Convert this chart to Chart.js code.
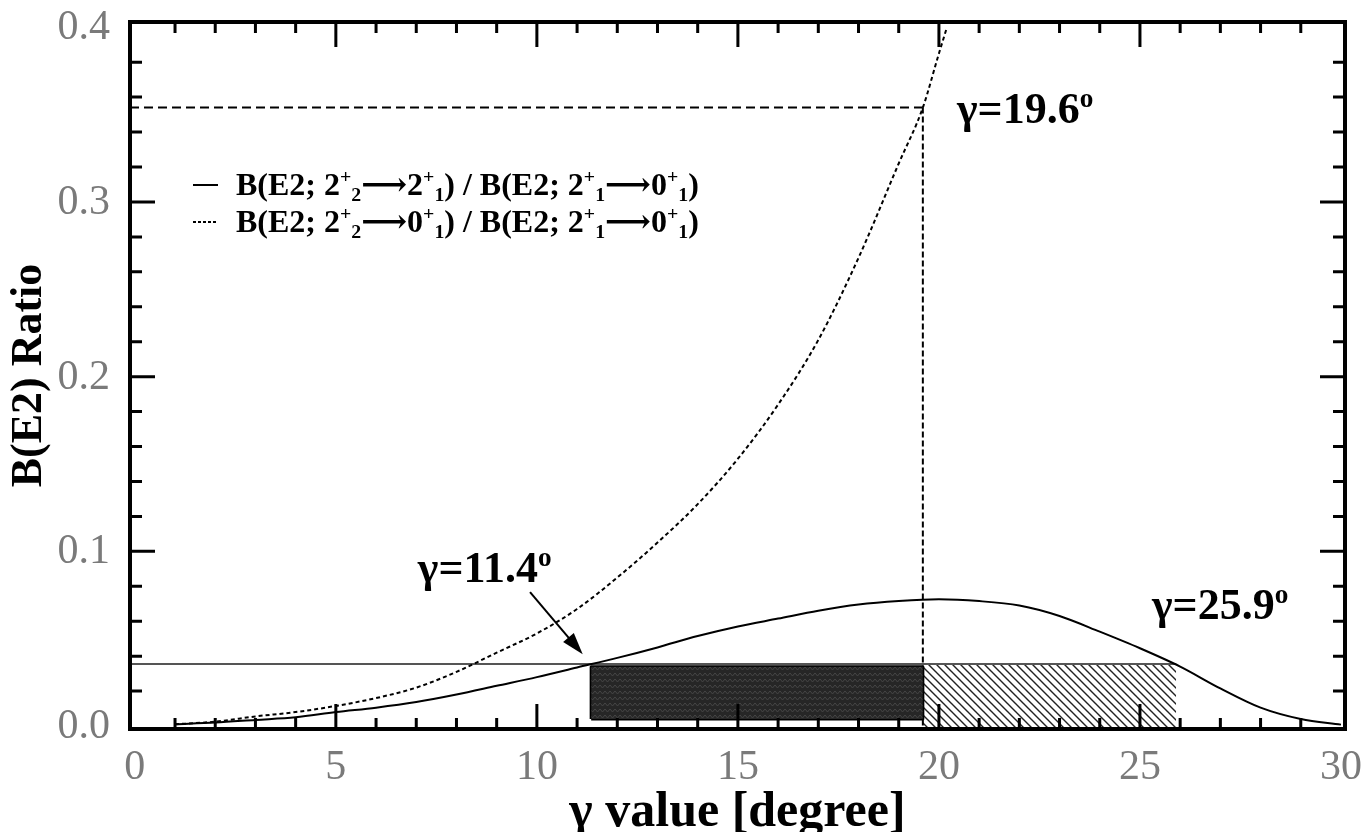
<!DOCTYPE html>
<html>
<head>
<meta charset="utf-8">
<script src="https://cdn.jsdelivr.net/npm/chart.js@4.4.1/dist/chart.umd.min.js"></script>
<style>
  html, body { margin: 0; padding: 0; background: #fff; }
  canvas { display: block; }
</style>
</head>
<body>
<canvas id="ratioChart" width="1366" height="832"></canvas>
<script>
// values (gamma in degree)
const gammaSolid = [1, 2, 3, 4, 5, 6, 7, 8, 9, 10, 11, 12, 13, 14, 15, 16, 17, 18, 19, 20, 21, 22, 23, 24, 25, 26, 27, 28, 29, 30];
const ratio22to21 = [0.001, 0.002, 0.0035, 0.005, 0.008, 0.0105, 0.0137, 0.018, 0.023, 0.028, 0.0335, 0.039, 0.045, 0.0515, 0.057, 0.0615, 0.066, 0.0695, 0.0715, 0.0725, 0.0715, 0.069, 0.063, 0.054, 0.0445, 0.034, 0.0215, 0.0105, 0.004, 0.0008];

const gammaDotted = [1, 2, 3, 4, 5, 6, 7, 8, 9, 10, 11, 12, 13, 14, 15, 16, 17, 18, 19, 19.6, 20, 20.2];
const ratio22to01 = [0.001, 0.0025, 0.0055, 0.008, 0.0115, 0.016, 0.022, 0.031, 0.042, 0.053, 0.067, 0.085, 0.105, 0.127, 0.153, 0.184, 0.221, 0.268, 0.322, 0.354, 0.385, 0.4];

const xTickValues = [0, 5, 10, 15, 20, 25, 30];
const xTickLabels = ['0', '5', '10', '15', '20', '25', '30'];
const yTickValues = [0, 0.1, 0.2, 0.3, 0.4];
const yTickLabels = ['0.0', '0.1', '0.2', '0.3', '0.4'];

const gammaLow = 11.4;
const gammaMid = 19.6;
const gammaHigh = 25.9;
const ratioLevel = 0.0355;
const ratioAtMid = 0.354;
const boxLeft = 11.35;
const boxRange = [0.004, 0.034];
const arrowFrom = [9.83, 0.0766];
const arrowTo = [11.14, 0.0411];

const legendSolid = [['B(E2; 2', ''], ['+', 'sup'], ['2', 'sub'], ['\u27F62', ''], ['+', 'sup'], ['1', 'sub'], [') / B(E2; 2', ''], ['+', 'sup'], ['1', 'sub'], ['\u27F60', ''], ['+', 'sup'], ['1', 'sub'], [')', '']];
const legendDotted = [['B(E2; 2', ''], ['+', 'sup'], ['2', 'sub'], ['\u27F60', ''], ['+', 'sup'], ['1', 'sub'], [') / B(E2; 2', ''], ['+', 'sup'], ['1', 'sub'], ['\u27F60', ''], ['+', 'sup'], ['1', 'sub'], [')', '']];

const X_MIN = -0.12, X_MAX = 30.1;
const Y_MIN = -0.0017, Y_MAX = 0.403;

const SERIF = '"Liberation Serif", "DejaVu Serif", serif';

function pts(xs, ys) {
  return xs.map((x, i) => ({x: x, y: ys[i]}));
}

function hatchPattern() {
  const c = document.createElement('canvas');
  c.width = 8; c.height = 8;
  const g = c.getContext('2d');
  g.strokeStyle = '#222';
  g.lineWidth = 1.4;
  g.beginPath();
  g.moveTo(-2, -2); g.lineTo(10, 10);
  g.moveTo(6, -2); g.lineTo(10, 2);
  g.moveTo(-2, 6); g.lineTo(2, 10);
  g.stroke();
  return g.createPattern(c, 'repeat');
}

function darkPattern() {
  const c = document.createElement('canvas');
  c.width = 10; c.height = 6;
  const g = c.getContext('2d');
  g.fillStyle = '#262626';
  g.fillRect(0, 0, 10, 6);
  g.strokeStyle = '#464646';
  g.lineWidth = 1;
  g.beginPath();
  g.moveTo(0, 1); g.lineTo(2.5, 4); g.lineTo(5, 1); g.lineTo(7.5, 4); g.lineTo(10, 1);
  g.stroke();
  return g.createPattern(c, 'repeat');
}

function drawRich(ctx, x, y, parts, size) {
  let cx = x;
  parts.forEach(([txt, mode]) => {
    const s = mode ? size * 0.62 : size;
    ctx.font = 'bold ' + s + 'px ' + SERIF;
    const dy = mode === 'sup' ? -size * 0.38 : (mode === 'sub' ? size * 0.2 : 0);
    ctx.fillText(txt, cx, y + dy);
    cx += ctx.measureText(txt).width;
  });
  return cx;
}

// frame, inward ticks, labels, legend, annotations
const decorPlugin = {
  id: 'decor',
  afterDraw(chart) {
    const {ctx, chartArea: a, scales: {x, y}} = chart;
    ctx.save();
    ctx.strokeStyle = '#000';
    ctx.lineCap = 'butt';

    // ticks
    ctx.lineWidth = 3;
    ctx.beginPath();
    for (let g = 1; g < 30; g++) {
      const px = x.getPixelForValue(g);
      const len = g % 5 === 0 ? 25 : 11;
      ctx.moveTo(px, a.bottom); ctx.lineTo(px, a.bottom - len);
      ctx.moveTo(px, a.top); ctx.lineTo(px, a.top + len);
    }
    for (let k = 1; k < 20; k++) {
      const py = y.getPixelForValue(k * 0.02);
      const len = k % 5 === 0 ? 25 : 12;
      ctx.moveTo(a.left, py); ctx.lineTo(a.left + len, py);
      ctx.moveTo(a.right, py); ctx.lineTo(a.right - len, py);
    }
    ctx.stroke();

    // frame
    ctx.lineWidth = 4;
    ctx.strokeRect(a.left, a.top, a.right - a.left, a.bottom - a.top);

    // tick labels
    ctx.fillStyle = '#7a7a7a';
    ctx.font = '42px ' + SERIF;
    ctx.textAlign = 'center';
    ctx.textBaseline = 'middle';
    xTickValues.forEach((v, i) => {
      ctx.fillText(xTickLabels[i], x.getPixelForValue(v), a.bottom + 39);
    });
    ctx.textAlign = 'right';
    yTickValues.forEach((v, i) => {
      ctx.fillText(yTickLabels[i], a.left - 20, y.getPixelForValue(v) + 1);
    });

    // axis titles
    ctx.fillStyle = '#000';
    ctx.font = 'bold 50px ' + SERIF;
    ctx.textAlign = 'center';
    ctx.fillText('\u03B3 value [degree]', (a.left + a.right) / 2, a.bottom + 84);
    ctx.font = 'bold 44px ' + SERIF;
    ctx.save();
    ctx.translate(30, (a.top + a.bottom) / 2);
    ctx.rotate(-Math.PI / 2);
    ctx.fillText('B(E2) Ratio', 0, 0);
    ctx.restore();

    // legend
    ctx.textAlign = 'left';
    ctx.textBaseline = 'alphabetic';
    const lx = a.left + 63;
    const ly1 = a.top + 163, ly2 = a.top + 200;
    ctx.lineWidth = 2;
    ctx.beginPath();
    ctx.moveTo(lx, ly1); ctx.lineTo(lx + 25, ly1);
    ctx.stroke();
    ctx.setLineDash([3, 2]);
    ctx.beginPath();
    ctx.moveTo(lx, ly2); ctx.lineTo(lx + 25, ly2);
    ctx.stroke();
    ctx.setLineDash([]);
    drawRich(ctx, lx + 43, ly1 + 10, legendSolid, 32);
    drawRich(ctx, lx + 43, ly2 + 10, legendDotted, 32);

    // annotations
    drawRich(ctx, x.getPixelForValue(20.45), y.getPixelForValue(0.345), [['\u03B3=19.6', ''], ['o', 'sup']], 44);
    drawRich(ctx, x.getPixelForValue(7.04), y.getPixelForValue(0.0823), [['\u03B3=11.4', ''], ['o', 'sup']], 44);
    drawRich(ctx, x.getPixelForValue(25.3), y.getPixelForValue(0.0611), [['\u03B3=25.9', ''], ['o', 'sup']], 44);

    // arrow towards gamma = 11.4
    const x0 = x.getPixelForValue(arrowFrom[0]), y0 = y.getPixelForValue(arrowFrom[1]);
    const x1 = x.getPixelForValue(arrowTo[0]), y1 = y.getPixelForValue(arrowTo[1]);
    const ang = Math.atan2(y1 - y0, x1 - x0);
    ctx.lineWidth = 2;
    ctx.beginPath();
    ctx.moveTo(x0, y0);
    ctx.lineTo(x1 - 14 * Math.cos(ang), y1 - 14 * Math.sin(ang));
    ctx.stroke();
    ctx.beginPath();
    ctx.moveTo(x1, y1);
    ctx.lineTo(x1 - 22 * Math.cos(ang) + 7 * Math.sin(ang), y1 - 22 * Math.sin(ang) - 7 * Math.cos(ang));
    ctx.lineTo(x1 - 22 * Math.cos(ang) - 7 * Math.sin(ang), y1 - 22 * Math.sin(ang) + 7 * Math.cos(ang));
    ctx.closePath();
    ctx.fill();

    ctx.restore();
  }
};

const ctx = document.getElementById('ratioChart');
const chart = new Chart(ctx, {
  type: 'line',
  data: {
    datasets: [
      {
        label: 'box',
        data: pts([boxLeft, gammaMid], [boxRange[1], boxRange[1]]),
        fill: {value: boxRange[0]},
        backgroundColor: darkPattern(),
        borderWidth: 0,
        order: 0
      },
      {
        label: 'box outline',
        data: pts([boxLeft, boxLeft, gammaMid, gammaMid, boxLeft], [boxRange[0], boxRange[1], boxRange[1], boxRange[0], boxRange[0]]),
        borderColor: '#000',
        borderWidth: 3,
        borderJoinStyle: 'round',
        fill: false,
        order: 0
      },
      {
        label: 'B(E2; 2+2->2+1) / B(E2; 2+1->0+1)',
        data: pts(gammaSolid, ratio22to21),
        borderColor: '#000',
        borderWidth: 2,
        cubicInterpolationMode: 'monotone',
        fill: false,
        order: 1
      },
      {
        label: 'B(E2; 2+2->0+1) / B(E2; 2+1->0+1)',
        data: pts(gammaDotted, ratio22to01),
        borderColor: '#000',
        borderWidth: 2,
        borderDash: [4, 3],
        cubicInterpolationMode: 'monotone',
        fill: false,
        order: 1
      },
      {
        label: 'level',
        data: pts([X_MIN, gammaHigh], [ratioLevel, ratioLevel]),
        borderColor: '#555',
        borderWidth: 2,
        fill: false,
        order: 2
      },
      {
        label: 'mid horizontal',
        data: pts([X_MIN, gammaMid], [ratioAtMid, ratioAtMid]),
        borderColor: '#000',
        borderWidth: 2,
        borderDash: [9, 5],
        fill: false,
        order: 2
      },
      {
        label: 'mid vertical',
        data: pts([gammaMid, gammaMid], [ratioAtMid, 0]),
        borderColor: '#000',
        borderWidth: 2,
        borderDash: [6, 3],
        fill: false,
        order: 2
      },
      {
        label: 'hatch',
        data: pts([gammaMid, gammaHigh], [ratioLevel, ratioLevel]),
        fill: 'start',
        backgroundColor: hatchPattern(),
        borderWidth: 0,
        order: 3
      }
    ]
  },
  options: {
    responsive: false,
    animation: false,
    events: [],
    layout: {
      padding: {left: 130, right: 21, top: 22, bottom: 103}
    },
    elements: {
      point: {radius: 0}
    },
    scales: {
      x: {
        type: 'linear',
        display: false,
        min: X_MIN,
        max: X_MAX
      },
      y: {
        type: 'linear',
        display: false,
        min: Y_MIN,
        max: Y_MAX
      }
    },
    plugins: {
      legend: {display: false},
      tooltip: {enabled: false}
    }
  },
  plugins: [decorPlugin]
});
</script>
</body>
</html>
